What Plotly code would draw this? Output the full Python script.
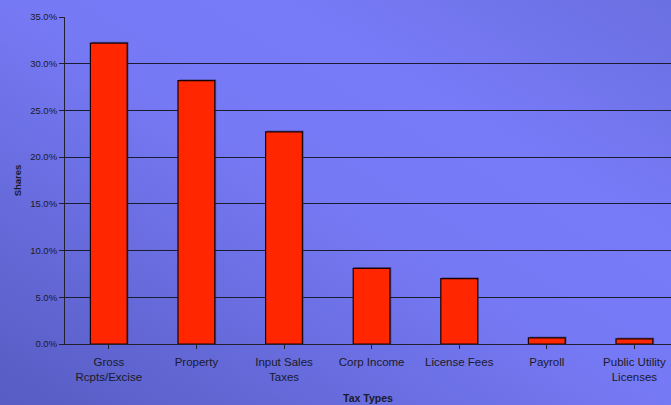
import plotly.graph_objects as go
import urllib.parse

# Tax revenue shares by type
categories = ["Gross<br>Rcpts/Excise", "Property", "Input Sales<br>Taxes", "Corp Income",
              "License Fees", "Payroll", "Public Utility<br>Licenses"]
shares = [32.2, 28.2, 22.7, 8.1, 7.0, 0.65, 0.55]
y_ticks = [0, 5, 10, 15, 20, 25, 30, 35]
y_tick_labels = [f"{v:.1f}%" for v in y_ticks]

W, H = 671, 405
L, R, T, B = 65, 0, 17, 61
plot_w = W - L - R
plot_h = H - T - B

bar_w = 0.42
cat_px = 87.6
dx = 1.4 / cat_px          # shadow shift in category units
dy = 1.4 * 35 / plot_h     # shadow shift in percent units

# diagonal background gradient as an SVG image
svg = (
    "<svg xmlns='http://www.w3.org/2000/svg' width='671' height='405'>"
    "<defs><linearGradient id='g' x1='0' y1='1' x2='1' y2='0'>"
    "<stop offset='0' stop-color='#565cc2'/>"
    "<stop offset='0.5' stop-color='#7679f4'/>"
    "<stop offset='0.7' stop-color='#787bf8'/>"
    "<stop offset='1' stop-color='#6a6fe0'/>"
    "</linearGradient></defs>"
    "<rect width='671' height='405' fill='url(#g)'/></svg>"
)
bg_uri = "data:image/svg+xml;charset=utf-8," + urllib.parse.quote(svg)

fig = go.Figure()

# soft drop shadow behind each bar
fig.add_trace(go.Bar(
    x=list(range(len(categories))), y=[v + dy for v in shares],
    width=bar_w, offset=-bar_w / 2 + dx,
    marker=dict(color="rgba(40,40,90,0.45)", line=dict(width=0)),
    hoverinfo="skip", showlegend=False,
))
fig.add_trace(go.Bar(
    x=list(range(len(categories))), y=shares,
    width=bar_w, offset=-bar_w / 2,
    marker=dict(color="#ff2600", line=dict(color="#1a0000", width=1.2)),
    showlegend=False,
))

fig.update_layout(
    width=W, height=H,
    margin=dict(l=L, r=R, t=T, b=B, pad=0),
    paper_bgcolor="#7072ea",
    plot_bgcolor="rgba(0,0,0,0)",
    barmode="overlay",
    font=dict(family="Liberation Sans, Arial, sans-serif", color="#1a1a2a"),
    images=[dict(
        source=bg_uri, xref="paper", yref="paper",
        x=-L / plot_w, y=1 + T / plot_h,
        sizex=W / plot_w, sizey=H / plot_h,
        xanchor="left", yanchor="top", sizing="stretch", layer="below",
    )],
    xaxis=dict(
        tickmode="array", tickvals=list(range(len(categories))), ticktext=categories,
        range=[-0.5, -0.5 + plot_w / cat_px],
        showgrid=False, zeroline=False,
        showline=True, linecolor="#202030", linewidth=1,
        ticks="outside", ticklen=4, tickcolor="#202030",
        ticklabelstandoff=3,
        tickfont=dict(size=11.5, color="#1a1a2a"),
        title=dict(text="<b>Tax Types</b>", font=dict(size=10.5, color="#1a1a2a"), standoff=12),
    ),
    yaxis=dict(
        range=[0, 35], tickvals=y_ticks, ticktext=y_tick_labels,
        showgrid=True, gridcolor="#1c1c30", gridwidth=1,
        zeroline=False,
        showline=True, linecolor="#202030", linewidth=1,
        ticks="outside", ticklen=5, tickcolor="#202030",
        tickfont=dict(size=9.5, color="#1a1a2a"),
        title=dict(text="<b>Shares</b>", font=dict(size=9.5, color="#1a1a2a"), standoff=6),
    ),
)

fig.write_html("out.html")
